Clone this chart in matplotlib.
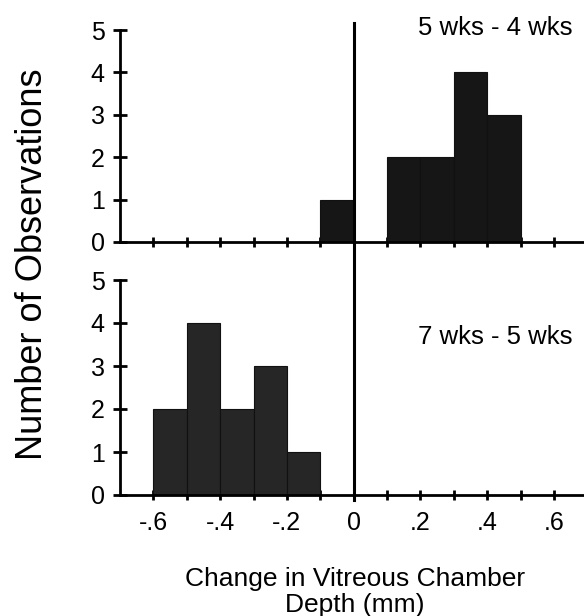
import matplotlib
matplotlib.use("Agg")
import matplotlib.pyplot as plt
import numpy as np

plt.rcParams['font.family'] = ['Liberation Sans', 'DejaVu Sans']

# Data
bin_width = 0.1
top_bin_left = [-0.1, 0.1, 0.2, 0.3, 0.4]
top_counts = [1, 2, 2, 4, 3]
bottom_bin_left = [-0.6, -0.5, -0.4, -0.3, -0.2]
bottom_counts = [2, 4, 2, 3, 1]
top_label = "5 wks - 4 wks"
bottom_label = "7 wks - 5 wks"
xtick_major = [-0.6, -0.4, -0.2, 0, 0.2, 0.4, 0.6]
xtick_labels = ["-.6", "-.4", "-.2", "0", ".2", ".4", ".6"]
xtick_minor = [-0.5, -0.3, -0.1, 0.1, 0.3, 0.5]
yticks = [0, 1, 2, 3, 4, 5]

W, H = 584, 616
fig = plt.figure(figsize=(W / 100, H / 100), dpi=100)

left = 120 / W
right = 1.0
ax_top = fig.add_axes([left, 1 - 242 / H, right - left, 212 / H])
ax_bot = fig.add_axes([left, 1 - 495 / H, right - left, 215 / H])

lw = 2.0
for ax, lefts, counts, col in [(ax_top, top_bin_left, top_counts, '#161616'),
                                (ax_bot, bottom_bin_left, bottom_counts, '#262626')]:
    ax.bar(lefts, counts, width=bin_width, align='edge', color=col,
           edgecolor='#111111', linewidth=0.8, zorder=2)
    ax.set_xlim(-0.7, 0.69)
    ax.set_ylim(0, 5)
    ax.spines['top'].set_visible(False)
    ax.spines['right'].set_visible(False)
    ax.spines['left'].set_linewidth(lw)
    ax.spines['bottom'].set_linewidth(lw)
    ax.set_yticks(yticks)
    ax.set_xticks(xtick_major)
    ax.set_xticks(xtick_minor, minor=True)
    ax.tick_params(axis='y', direction='inout', length=10, width=lw,
                   labelsize=18, pad=6)
    ax.tick_params(axis='x', which='both', direction='inout', length=7,
                   width=lw, labelsize=18, pad=8)
    ax.set_facecolor('none')

ax_top.set_xticklabels([])
ax_bot.set_xticklabels(xtick_labels)

# vertical zero line spanning both panels
ax_top.axvline(0, ymin=(242 - 500) / 212, ymax=(242 - 23) / 212,
               color='black', linewidth=2.2, clip_on=False, zorder=3)

fig.text(572 / W, 1 - 35 / H, top_label, ha='right', va='baseline', fontsize=18.5)
fig.text(573 / W, 1 - 344 / H, bottom_label, ha='right', va='baseline', fontsize=18.5)

fig.text(33 / W, 1 - 264 / H, "Number of Observations", rotation=90,
         ha='center', va='center', fontsize=26)
fig.text(355 / W, 1 - 592 / H, "Change in Vitreous Chamber\nDepth (mm)",
         ha='center', va='center', fontsize=19, linespacing=1.1)

fig.savefig("out.png", dpi=100)
